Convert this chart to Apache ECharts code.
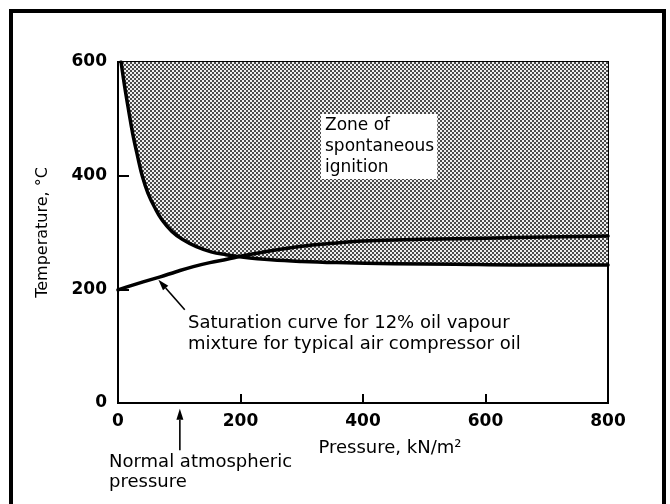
<!DOCTYPE html>
<html><head><meta charset="utf-8">
<script src="https://cdn.jsdelivr.net/npm/echarts@6/dist/echarts.min.js"></script>
<style>html,body{margin:0;padding:0;background:#fff}#c{width:670px;height:504px}</style>
</head><body><div id="c"></div>
<script>
// ---- data ----
const xTicks = [0, 200, 400, 600, 800];
const yTicks = [0, 200, 400, 600];
// Spontaneous-ignition boundary (pressure kN/m2, temperature °C)
const ignitionX = [5, 11, 17, 24, 32, 40, 49, 60, 72, 88, 105, 128, 152, 176, 202, 250, 300, 357, 450, 550, 650, 800];
const ignitionY = [600, 556, 517, 474, 434, 398, 369, 344, 322, 302, 288, 275, 266, 261, 257, 252, 249, 247, 245, 244, 243, 243];
// Saturation curve for 12% oil vapour mixture
const saturationX = [0, 20, 41, 69, 95, 123, 150, 178, 204, 250, 300, 350, 400, 450, 550, 650, 800];
const saturationY = [199, 206, 213, 222, 231, 240, 247, 253, 259, 268, 276, 281, 285, 287, 289, 291, 294];
const atmosphericPressure = 101;
const satArrowTail = [109, 164];
const satArrowHead = [66, 217];

const FONT = '"DejaVu Sans", "Liberation Sans", sans-serif';

// halftone pattern
const pc = document.createElement('canvas');
pc.width = 4; pc.height = 4;
const pg = pc.getContext('2d');
pg.fillStyle = '#eeeeee'; pg.fillRect(0, 0, 4, 4);
pg.fillStyle = '#4a4a4a'; pg.fillRect(0, 0, 2, 2); pg.fillRect(2, 2, 2, 2);

const chart = echarts.init(document.getElementById('c'), null, {renderer: 'canvas'});
const zip = (a, b) => a.map((v, i) => [v, b[i]]);

const option = {
  animation: false,
  backgroundColor: '#ffffff',
  grid: {left: 118, right: 62, top: 62, bottom: 101, show: true, borderColor: '#000', borderWidth: 2, backgroundColor: 'transparent'},
  xAxis: {
    type: 'value', min: xTicks[0], max: xTicks[xTicks.length - 1], interval: 200,
    axisLine: {lineStyle: {color: '#000', width: 2}},
    axisTick: {inside: true, length: 9, lineStyle: {color: '#000', width: 2}},
    axisLabel: {color: '#000', fontFamily: FONT, fontWeight: 'bold', fontSize: 17, margin: 10},
    splitLine: {show: false}
  },
  yAxis: {
    type: 'value', min: yTicks[0], max: yTicks[yTicks.length - 1], interval: 200,
    name: 'Temperature, °C', nameLocation: 'middle', nameGap: 67,
    nameTextStyle: {color: '#000', fontFamily: FONT, fontSize: 16},
    axisLine: {lineStyle: {color: '#000', width: 2}},
    axisTick: {inside: true, length: 11, lineStyle: {color: '#000', width: 2}},
    axisLabel: {color: '#000', fontFamily: FONT, fontWeight: 'bold', fontSize: 17, margin: 11},
    splitLine: {show: false}
  },
  series: [
    {
      type: 'line', name: 'ignition', data: zip(ignitionX, ignitionY),
      symbol: 'none', smooth: 0.4,
      lineStyle: {color: '#000', width: 3.5, cap: 'round', join: 'round'},
      areaStyle: {origin: 'end', color: {image: pc, repeat: 'repeat'}, opacity: 1},
      z: 2
    },
    {
      type: 'line', name: 'saturation', data: zip(saturationX, saturationY),
      symbol: 'none', smooth: 0.4,
      lineStyle: {color: '#000', width: 3.5, cap: 'round', join: 'round'},
      z: 3
    }
  ]
};
chart.setOption(option);

function px(p) { return chart.convertToPixel({gridIndex: 0}, p); }
function arrow(tail, head, len, wid) {
  const a = px(tail), b = px(head);
  const dx = b[0] - a[0], dy = b[1] - a[1];
  const L = Math.hypot(dx, dy), ux = dx / L, uy = dy / L;
  const bx = b[0] - ux * len, by = b[1] - uy * len;
  return [
    {type: 'line', shape: {x1: a[0], y1: a[1], x2: bx, y2: by}, style: {stroke: '#000', lineWidth: 1.6}, z: 10},
    {type: 'polygon', shape: {points: [[b[0], b[1]], [bx - uy * wid, by + ux * wid], [bx + uy * wid, by - ux * wid]]}, style: {fill: '#000'}, z: 10}
  ];
}

const textStyle = (t, x, y, extra) => Object.assign({
  text: t, x: x, y: y, fill: '#000', font: '18px ' + FONT, textAlign: 'left', textVerticalAlign: 'top'
}, extra || {});

const graphics = [
  // outer frame
  {type: 'rect', shape: {x: 11, y: 11, width: 653, height: 520}, style: {fill: 'none', stroke: '#000', lineWidth: 4}, z: 20, silent: true},
  ...arrow(satArrowTail, satArrowHead, 11, 3.5),
  ...arrow([atmosphericPressure, -83], [atmosphericPressure, -10], 11, 3.5),
  {type: 'text', z: 15, style: textStyle('Zone of\nspontaneous\nignition', 321, 114, {font: '17px ' + FONT, lineHeight: 21, backgroundColor: '#fff', padding: [1, 3, 1, 4]})},
  {type: 'text', z: 15, style: textStyle('Saturation curve for 12% oil vapour\nmixture for typical air compressor oil', 188, 313, {lineHeight: 21})},
  {type: 'text', z: 15, style: textStyle('Normal atmospheric\npressure', 109, 452, {lineHeight: 20})},
  {type: 'text', z: 15, style: {text: 'Pressure, kN/m²', x: 390, y: 448, fill: '#000', font: '18px ' + FONT, textAlign: 'center', textVerticalAlign: 'middle'}}
];
chart.setOption({graphic: graphics});
</script>
</body></html>
